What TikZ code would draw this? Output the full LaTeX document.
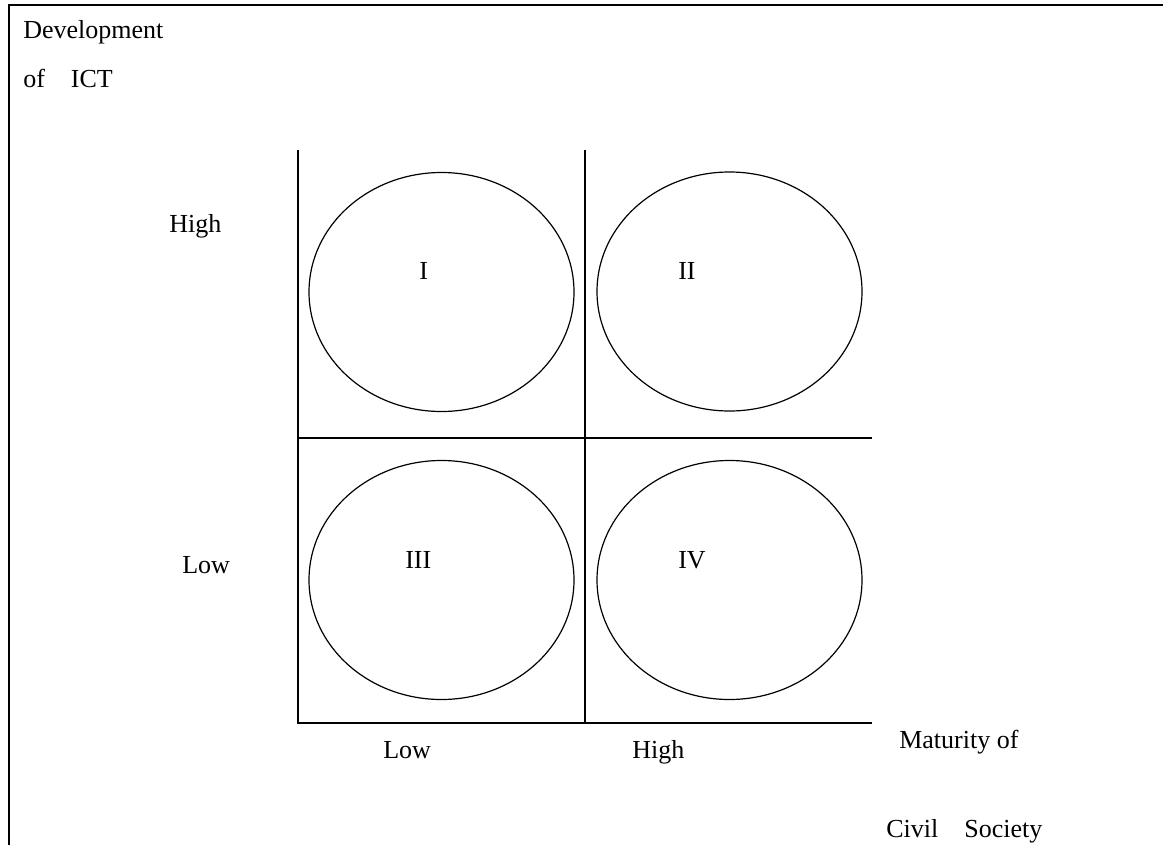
\documentclass[tikz,border=0pt]{standalone}
\usepackage{fontspec}
\setmainfont{Liberation Serif}
\usetikzlibrary{shapes.geometric}

\begin{document}
\begin{tikzpicture}[
    x=0.75pt,
    y=-0.75pt,
    txt/.style={
        anchor=base west,
        inner sep=0pt,
        font=\fontsize{19.5}{23}\selectfont
    },
    cell/.style={
        draw=black,
        ellipse,
        line width=0.9pt,
        minimum width=198.75pt,
        minimum height=179.25pt,
        inner sep=0pt
    },
    grid line/.style={
        draw=black,
        line width=1.3pt
    }
]

\useasboundingbox (0,0) rectangle (1163,845);

% Outer frame (top and left only)
\draw[line width=1.8pt] (1163,5) -- (9,5) -- (9,845);

% Corners of the matrix
\coordinate (tl) at (298,150);
\coordinate (tm) at (585,150);
\coordinate (ml) at (298,438);
\coordinate (mr) at (872,438);
\coordinate (bl) at (298,723);
\coordinate (bm) at (585,723);
\coordinate (br) at (872,723);

\draw[grid line] (tl) -- (bl) -- (br);
\draw[grid line] (tm) -- (bm);
\draw[grid line] (ml) -- (mr);

% Quadrants: name / centre / label / label position
\foreach \name/\cx/\cy/\txt/\lx/\ly in {
    one/441.5/292/I/419/279,
    two/729.5/291.5/II/678/279,
    three/441.5/580/III/405/568,
    four/729.5/580/IV/678/568
}{
    \node[cell] (\name) at (\cx,\cy) {};
    \node[txt] (\name-lbl) at (\lx,\ly) {\txt};
}

% Axis titles
\node[txt] (ytitle1) at (23,39) {Development};
\node[txt] (ytitle2) at (23,88) {of\quad ICT};
\node[txt] (xtitle1) at (899,748) {Maturity of};
\node[txt] (xtitle2) at (886,837) {Civil\quad Society};

% Axis levels
\node[txt] (yhigh) at (169,232) {High};
\node[txt] (ylow) at (182,573) {Low};
\node[txt] (xlow) at (383,758) {Low};
\node[txt] (xhigh) at (632,758) {High};
\end{tikzpicture}
\end{document}
